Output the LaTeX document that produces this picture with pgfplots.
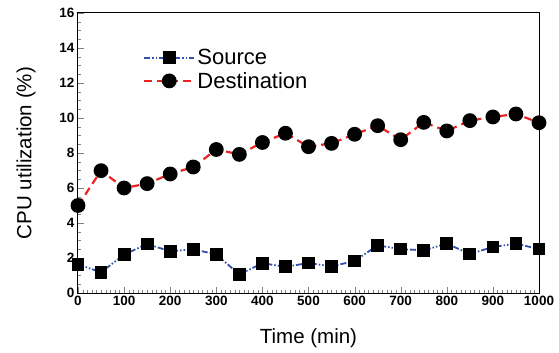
\documentclass[border=0pt]{standalone}
\usepackage{fontspec}
\setmainfont{Liberation Sans}
\usepackage{pgfplots}
\pgfplotsset{compat=1.18}
\definecolor{srcblue}{RGB}{50,80,170}
\definecolor{dstred}{RGB}{235,35,35}
\begin{document}
\begin{tikzpicture}
\begin{axis}[
  scale only axis,
  width=461pt, height=280pt,
  xmin=0, xmax=1000, ymin=0, ymax=16,
  xtick={0,100,...,1000}, ytick={0,2,...,16},
  minor x tick num=9, minor y tick num=3,
  tick pos=left, tick align=inside,
  major tick length=6pt, minor tick length=3pt,
  /pgf/number format/assume math mode=true,
  /pgf/number format/set thousands separator={},
  ticklabel style={font=\fontsize{13.5}{14}\selectfont\bfseries},
  xlabel={Time (min)}, ylabel={CPU utilization (\%)},
  label style={font=\fontsize{20.5}{22}\selectfont},
  xlabel style={yshift=-16pt},
  ylabel style={yshift=17pt},
  axis line style={line width=1pt},
  legend image code/.code={\draw[mark repeat=2,mark phase=2,#1] plot coordinates {(0pt,0pt)(25pt,0pt)(50pt,0pt)};},
  legend style={draw=none, fill=none, inner sep=0pt, at={(axis cs:141,14.05)}, anchor=north west,
    font=\fontsize{22}{24}\selectfont, row sep=2pt},
  legend cell align=left,
  clip=false,
]
\addplot[srcblue, line width=1.8pt, dash pattern=on 6pt off 2pt on 1.5pt off 2pt on 1.5pt off 2pt,
  mark=square*, mark size=5.5pt, mark options={solid, fill=black, draw=black}]
coordinates {
(0,1.64) (50,1.18) (100,2.2) (150,2.8) (200,2.38) (250,2.5) (300,2.2) (350,1.06)
(400,1.7) (450,1.5) (500,1.71) (550,1.52) (600,1.83) (650,2.72) (700,2.51)
(750,2.44) (800,2.82) (850,2.23) (900,2.63) (950,2.82) (1000,2.51)};
\addlegendentry{Source}
\addplot[dstred, line width=2.2pt, dash pattern=on 8pt off 5pt,
  mark=*, mark size=6.3pt, mark options={solid, fill=black, draw=black}]
coordinates {
(0,5.0) (50,6.99) (100,6.0) (150,6.25) (200,6.8) (250,7.2) (300,8.2) (350,7.92)
(400,8.6) (450,9.13) (500,8.36) (550,8.55) (600,9.07) (650,9.56) (700,8.76)
(750,9.75) (800,9.26) (850,9.85) (900,10.06) (950,10.23) (1000,9.73)};
\addlegendentry{Destination}
\end{axis}
\useasboundingbox (-78pt,-60pt) rectangle (481pt,293pt);
\end{tikzpicture}
\end{document}
